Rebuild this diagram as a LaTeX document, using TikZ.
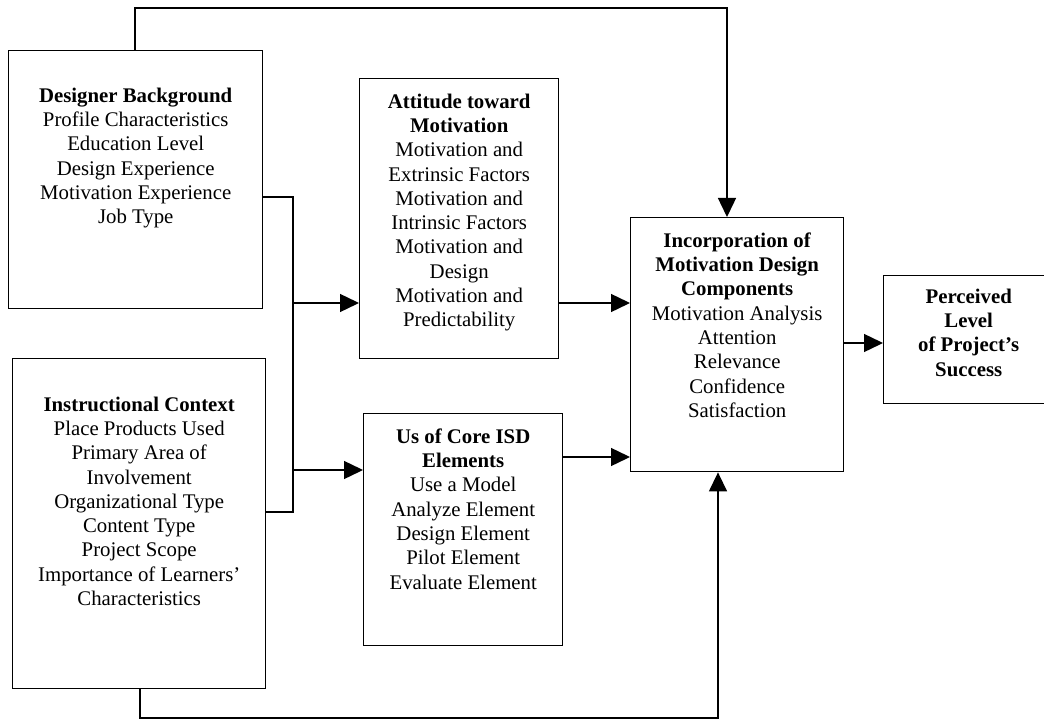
\documentclass[tikz,border=0pt]{standalone}
\usepackage{fontspec}
\setmainfont{Liberation Serif}
\usetikzlibrary{arrows.meta}
\tikzset{
  boxnode/.style={draw, line width=1.4pt, inner sep=0pt, anchor=north west, align=center},
  arr/.style={line width=1.4pt, -{Triangle[length=19pt,width=18pt]}},
  conn/.style={line width=1.4pt},
}
\newcommand{\boxtext}[4]{\begin{minipage}[t][#2pt][t]{#1pt}\centering\fontsize{20.8}{24.3}\selectfont\vspace*{#3pt}#4\end{minipage}}
\begin{document}
\begin{tikzpicture}[x=1pt,y=-1pt]
\useasboundingbox (0,0) rectangle (1044,722);
\clip (0,0) rectangle (1044,722);
\fill[white] (0,0) rectangle (1044,722);

\node[boxnode] (b1) at (8,50) {\boxtext{254}{258}{37}{\textbf{Designer Background}\\Profile Characteristics\\Education Level\\Design Experience\\Motivation Experience\\Job Type}};
\node[boxnode] (b2) at (359,78) {\boxtext{199}{280}{15}{\textbf{Attitude toward}\\\textbf{Motivation}\\Motivation and\\Extrinsic Factors\\Motivation and\\Intrinsic Factors\\Motivation and\\Design\\Motivation and\\Predictability}};
\node[boxnode] (b3) at (630,217) {\boxtext{213}{254}{15}{\textbf{Incorporation of}\\\textbf{Motivation Design}\\\textbf{Components}\\Motivation Analysis\\Attention\\Relevance\\Confidence\\Satisfaction}};
\node[boxnode] (b4) at (12,358) {\boxtext{253}{330}{38}{\textbf{Instructional Context}\\Place Products Used\\Primary Area of\\Involvement\\Organizational Type\\Content Type\\Project Scope\\Importance of Learners'\\Characteristics}};
\node[boxnode] (b5) at (363,413) {\boxtext{199}{232}{15}{\textbf{Us of Core ISD}\\\textbf{Elements}\\Use a Model\\Analyze Element\\Design Element\\Pilot Element\\Evaluate Element}};
\node[boxnode] (b6) at (883,275) {\boxtext{170}{128}{13}{\textbf{Perceived}\\\textbf{Level}\\\textbf{of Project's}\\\textbf{Success}}};

% junction coordinates
\coordinate (t1) at (135,8);
\coordinate (j1) at (293,197);
\coordinate (j2) at (293,512);
\coordinate (j3) at (293,303);
\coordinate (j4) at (293,470);
\coordinate (k5) at (600,457);
\coordinate (k3) at (860,343);
\coordinate (bc) at (140,718);

\draw[arr] (b1.north -| t1) -- (t1) -| ([xshift=97pt]b3.north west);
\draw[conn] (b1.east |- j1) -- (j1) -- (j2) -- (b4.east |- j2);
\draw[arr] (j3) -- (b2.west |- j3);
\draw[arr] (j4) -- (b5.west |- j4);
\draw[arr] (b2.east |- j3) -- (b3.west |- j3);
\draw[arr] (b5.east |- k5) -- (b3.west |- k5);
\draw[arr] (b3.east |- k3) -- (b6.west |- k3);
\draw[arr] (b4.south -| bc) -- (bc) -| ([xshift=88pt]b3.south west);
\end{tikzpicture}
\end{document}
